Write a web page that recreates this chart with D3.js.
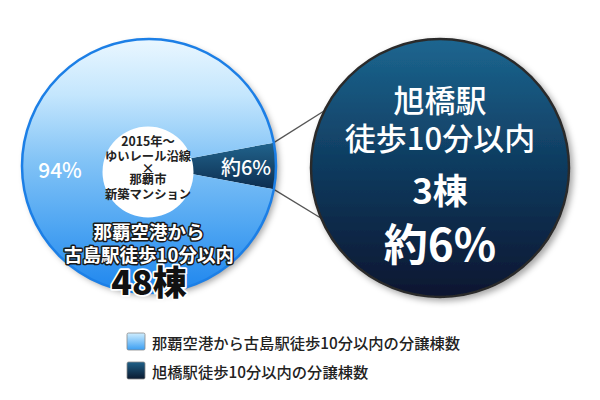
<!DOCTYPE html>
<html><head><meta charset="utf-8">
<script src="https://cdn.jsdelivr.net/npm/d3@7"></script>
<style>
html,body{margin:0;padding:0;background:#fff;}
svg{display:block;font-family:"Noto Sans CJK JP","Noto Sans",sans-serif;}
</style></head>
<body><svg id="chart" width="600" height="400"></svg>
<script>
// ---- data ----
const categories = ["旭橋駅徒歩10分以内", "那覇空港から古島駅徒歩10分以内"];
const values = [3, 48];
const percentLabels = ["約6%", "94%"];
const legendLabels = ["那覇空港から古島駅徒歩10分以内の分譲棟数", "旭橋駅徒歩10分以内の分譲棟数"];
const centerLines = ["2015年～", "ゆいレール沿線", "×", "那覇市", "新築マンション"];
const blueLines = ["那覇空港から", "古島駅徒歩10分以内"];
const blueCount = "48棟";
const bubbleLines = ["旭橋駅", "徒歩10分以内", "3棟", "約6%"];

const svg = d3.select("#chart");
const defs = svg.append("defs");

function grad(id, stops, y1, y2, units) {
  const g = defs.append("linearGradient").attr("id", id)
    .attr("gradientUnits", units || "userSpaceOnUse")
    .attr("x1", 0).attr("x2", 0).attr("y1", y1).attr("y2", y2);
  stops.forEach(s => g.append("stop").attr("offset", s[0]).attr("stop-color", s[1]));
}
const cx = 149, cy = 166, R = 127;
const bx = 440, by = 168, BR = 129;
grad("gBlue", [[0, "#eaf7ff"], [0.22, "#c4e6fd"], [0.48, "#82c3f6"], [0.75, "#4ca4f2"], [1, "#1e86ee"]], -R, R);
grad("gDarkSlice", [[0, "#22668f"], [1, "#0c2b4d"]], -25, 25);
grad("gBubble", [[0, "#1c6690"], [0.5, "#0f3a5e"], [1, "#0a1630"]], by - BR, by + BR);
grad("gLegBlue", [[0, "#cfeeff"], [1, "#3a9ef2"]], 0, 1, "objectBoundingBox");
grad("gLegDark", [[0, "#1f6088"], [1, "#0a1a30"]], 0, 1, "objectBoundingBox");

const sh = defs.append("filter").attr("id", "shadow").attr("x", "-20%").attr("y", "-20%").attr("width", "140%").attr("height", "140%");
sh.append("feDropShadow").attr("dx", 3).attr("dy", 3).attr("stdDeviation", 3).attr("flood-color", "#000").attr("flood-opacity", 0.35);

// ---- pie ----
const total = d3.sum(values);
const darkSpan = 2 * Math.PI * values[0] / total;
const start = Math.PI / 2 - darkSpan / 2;
const pie = d3.pie().sort(null).value(d => d.value).startAngle(start).endAngle(start + 2 * Math.PI);
const data = categories.map((c, i) => ({ cat: c, value: values[i], i }));
const arcs = pie(data);
const arc = d3.arc().innerRadius(0).outerRadius(R);

// connector lines (behind)
const angPt = (a, r, x0, y0) => [x0 + r * Math.sin(a), y0 - r * Math.cos(a)];
const darkArc = arcs[0];
const p1 = angPt(darkArc.startAngle, R, cx, cy);
const p2 = angPt(darkArc.endAngle, R, cx, cy);
const q1 = angPt(-Math.PI / 2 + 0.46, BR, bx, by);
const q2 = angPt(-Math.PI / 2 - 0.40, BR, bx, by);
svg.append("g").selectAll("line").data([[p1, q1], [p2, q2]]).join("line")
  .attr("x1", d => d[0][0]).attr("y1", d => d[0][1])
  .attr("x2", d => d[1][0]).attr("y2", d => d[1][1])
  .attr("stroke", "#555").attr("stroke-width", 1.3);

const pg = svg.append("g").attr("transform", `translate(${cx},${cy})`);
pg.append("circle").attr("r", R).attr("fill", "#fff").attr("filter", "url(#shadow)");
pg.selectAll("path").data(arcs).join("path")
  .attr("d", arc)
  .attr("fill", d => d.data.i === 0 ? "url(#gDarkSlice)" : "url(#gBlue)");
pg.append("circle").attr("r", R).attr("fill", "none").attr("stroke", "#1c7fe6").attr("stroke-width", 2.5);

// center white circle
svg.append("circle").attr("cx", 148).attr("cy", 172).attr("r", 45.5).attr("fill", "#fff");
const cYs = [141, 156, 167, 179, 194];
svg.append("g").selectAll("text").data(centerLines).join("text")
  .attr("x", 148).attr("y", (d, i) => cYs[i])
  .attr("text-anchor", "middle").attr("dominant-baseline", "central")
  .attr("font-size", d => d === "×" ? 13 : 12.3).attr("font-weight", 700).attr("fill", "#222")
  .text(d => d);

// percent labels in pie
svg.append("text").attr("x", 246).attr("y", 166).attr("text-anchor", "middle").attr("dominant-baseline", "central")
  .attr("font-size", 20).attr("font-weight", 500).attr("fill", "#fff").text(percentLabels[0]);
svg.append("text").attr("x", 60).attr("y", 169).attr("text-anchor", "middle").attr("dominant-baseline", "central")
  .attr("font-size", 21).attr("font-weight", 500).attr("fill", "#fff").text(percentLabels[1]);

// blue slice labels
const bYs = [231, 254];
svg.append("g").selectAll("text").data(blueLines).join("text")
  .attr("x", 149).attr("y", (d, i) => bYs[i])
  .attr("text-anchor", "middle").attr("dominant-baseline", "central")
  .attr("font-size", 18.5).attr("font-weight", 700).attr("fill", "#fff")
  .attr("stroke", "#1a1a1a").attr("stroke-width", 3).attr("paint-order", "stroke").attr("stroke-linejoin", "round")
  .text(d => d);
svg.append("text").attr("x", 149).attr("y", 280)
  .attr("text-anchor", "middle").attr("dominant-baseline", "central")
  .attr("font-size", 34).attr("font-weight", 900).attr("fill", "#111")
  .attr("stroke", "#fff").attr("stroke-width", 3.5).attr("paint-order", "stroke").attr("stroke-linejoin", "round")
  .text(blueCount);

// ---- bubble ----
svg.append("circle").attr("cx", bx).attr("cy", by).attr("r", BR)
  .attr("fill", "url(#gBubble)").attr("stroke", "#2b2b2b").attr("stroke-width", 2.5).attr("filter", "url(#shadow)");
const bubY = [98, 136, 188, 242];
const bubSize = [31, 31, 35, 44];
const bubWeight = [500, 500, 700, 700];
svg.append("g").selectAll("text").data(bubbleLines).join("text")
  .attr("x", bx).attr("y", (d, i) => bubY[i])
  .attr("text-anchor", "middle").attr("dominant-baseline", "central")
  .attr("font-size", (d, i) => bubSize[i]).attr("font-weight", (d, i) => bubWeight[i])
  .attr("fill", "#fff").text(d => d);

// ---- legend ----
const lg = svg.append("g").attr("transform", "translate(127,333)");
const lItems = lg.selectAll("g").data(legendLabels).join("g").attr("transform", (d, i) => `translate(0,${i * 29})`);
lItems.append("rect").attr("width", 18).attr("height", 17).attr("rx", 1.5)
  .attr("fill", (d, i) => i === 0 ? "url(#gLegBlue)" : "url(#gLegDark)")
  .attr("stroke", "#888").attr("stroke-width", 0.8);
lItems.append("text").attr("x", 25).attr("y", 8.5).attr("dominant-baseline", "central")
  .attr("font-size", 15.3).attr("font-weight", 500).attr("fill", "#222").text(d => d);
</script></body></html>
